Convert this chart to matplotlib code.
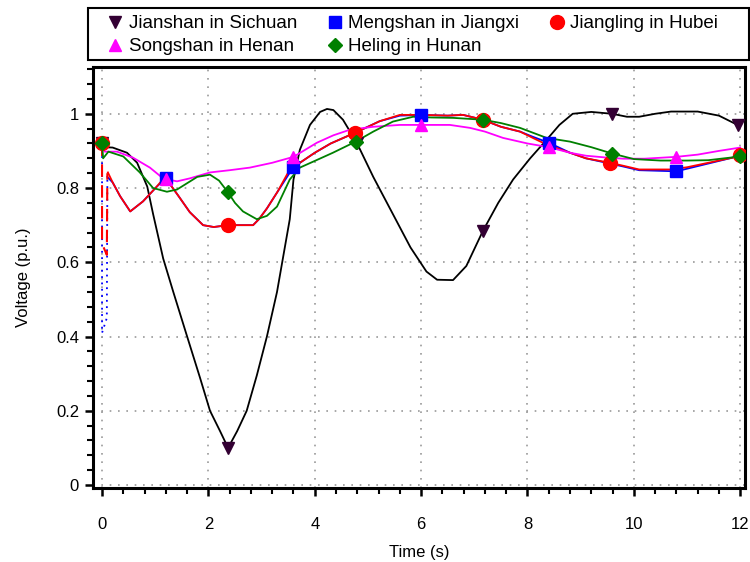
import numpy as np
import matplotlib.pyplot as plt
from matplotlib.lines import Line2D
from matplotlib.patches import Rectangle
from matplotlib.ticker import AutoMinorLocator

plt.rcParams['font.family'] = ['Liberation Sans', 'DejaVu Sans']

# Jianshan in Sichuan
js_t = [0, 0.05, 0.2, 0.47, 0.66, 0.85, 0.96, 1.15, 1.34, 1.6, 1.84, 2.03, 2.22, 2.37,
        2.54, 2.72, 2.91, 3.1, 3.29, 3.4, 3.53, 3.6, 3.72, 3.91, 4.1, 4.23, 4.35, 4.53, 4.79,
        5.1, 5.45, 5.8, 6.1, 6.3, 6.6, 6.85, 7.16, 7.45, 7.73, 8.05, 8.36, 8.6, 8.85,
        9.2, 9.59, 9.87, 10.1, 10.4, 10.7, 11.2, 11.6, 11.95]
js_v = [0.92, 0.91, 0.909, 0.895, 0.868, 0.804, 0.73, 0.61, 0.52, 0.40, 0.29, 0.20, 0.145, 0.10,
        0.145, 0.20, 0.295, 0.40, 0.52, 0.61, 0.716, 0.823, 0.903, 0.97, 1.005, 1.013, 1.01, 0.984, 0.922,
        0.83, 0.735, 0.64, 0.575, 0.553, 0.552, 0.59, 0.684, 0.76, 0.823, 0.88, 0.93, 0.97, 1.0,
        1.005, 1.0, 0.992, 0.992, 1.0, 1.006, 1.006, 0.995, 0.97]
js_mt = [0, 2.37, 4.79, 7.16, 9.59, 11.95]
js_mv = [0.92, 0.10, 0.922, 0.684, 1.0, 0.97]

# Mengshan in Jiangxi
ms_t = [0.1, 0.2, 0.34, 0.53, 0.77, 1.03, 1.2, 1.43, 1.65, 1.9, 2.1, 2.37, 2.84, 2.95,
        3.1, 3.3, 3.6, 3.72, 4.0, 4.3, 4.76, 5.22, 5.6, 6.0, 6.5, 6.79, 7.16, 7.5, 7.86,
        8.1, 8.4, 8.8, 9.1, 9.55, 9.8, 10.1, 10.8, 11.0, 11.4, 11.86, 12.0]
ms_v = [0.83, 0.815, 0.778, 0.737, 0.764, 0.804, 0.826, 0.78, 0.735, 0.70, 0.695, 0.70, 0.70, 0.716,
        0.745, 0.79, 0.857, 0.868, 0.895, 0.92, 0.949, 0.98, 0.995, 0.997, 0.995, 0.997, 0.984, 0.965, 0.952,
        0.938, 0.922, 0.895, 0.88, 0.866, 0.858, 0.848, 0.845, 0.852, 0.866, 0.882, 0.89]
ms_fault_t = [0.0, 0.0, 0.09, 0.1]
ms_fault_v = [0.92, 0.41, 0.45, 0.83]
ms_mt = [1.2, 3.6, 6.0, 8.4, 10.8]
ms_mv = [0.826, 0.857, 0.997, 0.922, 0.845]

# Jiangling in Hubei
jl_t = [0.11, 0.2, 0.34, 0.53, 0.77, 1.03, 1.18, 1.43, 1.65, 1.9, 2.1, 2.37, 2.84, 2.95,
        3.1, 3.3, 3.53, 3.72, 4.0, 4.3, 4.76, 5.0, 5.22, 5.6, 6.0, 6.5, 6.79, 7.16, 7.5, 7.86,
        8.1, 8.36, 8.8, 9.1, 9.55, 9.8, 10.1, 10.7, 11.0, 11.4, 11.86, 12.0]
jl_v = [0.842, 0.815, 0.778, 0.737, 0.764, 0.804, 0.83, 0.78, 0.735, 0.70, 0.695, 0.70, 0.70, 0.716,
        0.745, 0.79, 0.85, 0.868, 0.895, 0.92, 0.949, 0.965, 0.98, 0.997, 0.997, 0.995, 0.997, 0.984, 0.965, 0.952,
        0.935, 0.917, 0.895, 0.88, 0.868, 0.86, 0.85, 0.85, 0.856, 0.868, 0.882, 0.89]
jl_fault_t = [0.0, 0.0, 0.09, 0.1]
jl_fault_v = [0.92, 0.65, 0.62, 0.84]
jl_mt = [0, 2.37, 4.76, 7.16, 9.55, 12.0]
jl_mv = [0.92, 0.70, 0.949, 0.984, 0.868, 0.89]

# Songshan in Henan
ss_t = [0, 0.05, 0.28, 0.58, 0.9, 1.13, 1.2, 1.41, 1.65, 2.03, 2.4, 2.78, 3.2, 3.6, 4.04, 4.35,
        4.66, 5.1, 5.6, 6.0, 6.54, 6.92, 7.2, 7.54, 8.0, 8.4, 8.8, 9.1, 9.49, 9.8, 10.2,
        10.8, 11.2, 11.6, 12.0]
ss_v = [0.92, 0.898, 0.898, 0.882, 0.855, 0.828, 0.824, 0.818, 0.826, 0.842, 0.848, 0.855, 0.868, 0.884, 0.922, 0.942,
        0.957, 0.965, 0.97, 0.97, 0.97, 0.962, 0.952, 0.935, 0.92, 0.91, 0.895, 0.887, 0.882, 0.879, 0.879,
        0.884, 0.89, 0.9, 0.909]
ss_mt = [1.2, 3.6, 6.0, 8.4, 10.8]
ss_mv = [0.824, 0.884, 0.97, 0.91, 0.884]

# Heling in Hunan
hl_t = [0, 0.02, 0.12, 0.4, 0.71, 0.96, 1.22, 1.41, 1.79, 2.03, 2.2, 2.37,
        2.5, 2.65, 2.91, 3.1, 3.29, 3.53, 3.72, 4.0, 4.34, 4.77, 5.1, 5.47, 5.85, 6.2, 6.6,
        7.16, 7.5, 7.86, 8.36, 8.8, 9.2, 9.59, 10.0, 10.5, 11.0, 11.4, 11.7, 12.0]
hl_v = [0.92, 0.88, 0.898, 0.885, 0.842, 0.80, 0.79, 0.796, 0.83, 0.836, 0.82, 0.788,
        0.76, 0.737, 0.716, 0.725, 0.75, 0.823, 0.855, 0.873, 0.895, 0.925, 0.952, 0.979, 0.992, 0.99, 0.989,
        0.984, 0.975, 0.962, 0.935, 0.925, 0.91, 0.893, 0.878, 0.874, 0.874, 0.875, 0.88, 0.885]
hl_mt = [0, 2.37, 4.77, 7.16, 9.59, 12.0]
hl_mv = [0.92, 0.788, 0.925, 0.984, 0.893, 0.885]

names = ['Jianshan in Sichuan', 'Mengshan in Jiangxi', 'Jiangling in Hubei',
         'Songshan in Henan', 'Heling in Hunan']

fig = plt.figure(figsize=(7.5, 5.62), dpi=100)
ax = fig.add_axes([93/750, 74/562, 652/750, 421/562])

lw = 1.3
# black line with dark purple markers
ax.plot(js_t, js_v, color='black', lw=lw, zorder=2)
ax.plot(js_mt, js_mv, ls='none', marker='v', ms=9, color='#330033', zorder=5)

ax.plot(ms_fault_t, ms_fault_v, color='blue', lw=1.3, ls=(0, (1, 2.5)), zorder=2)
ax.plot(ms_t, ms_v, color='blue', lw=lw, zorder=2)
ax.plot(ms_mt, ms_mv, ls='none', marker='s', ms=9, color='blue', zorder=5)

ax.plot(jl_fault_t, jl_fault_v, color='red', lw=1.5, ls=(0, (6, 4)), zorder=3)
ax.plot(jl_t, jl_v, color='red', lw=lw, zorder=3)
ax.plot(jl_mt, jl_mv, ls='none', marker='o', ms=10, color='red', zorder=5)

ax.plot(ss_t, ss_v, color='#ff00ff', lw=lw, zorder=3)
ax.plot(ss_mt, ss_mv, ls='none', marker='^', ms=9, color='#ff00ff', zorder=5)

ax.plot(hl_t, hl_v, color='green', lw=lw, zorder=3)
ax.plot(hl_mt, hl_mv, ls='none', marker='D', ms=7, color='green', zorder=5)

ax.set_xlim(-0.17, 12.09)
ax.set_ylim(-0.008, 1.126)
ax.set_xticks(np.arange(0, 13, 2))
ax.set_yticks([0, 0.2, 0.4, 0.6, 0.8, 1.0])
ax.set_yticklabels(['0', '0.2', '0.4', '0.6', '0.8', '1'])
ax.xaxis.set_minor_locator(AutoMinorLocator(5))
ax.yaxis.set_minor_locator(AutoMinorLocator(5))
ax.tick_params(which='major', direction='out', length=6, width=1.8, labelsize=12, pad=4)
ax.tick_params(which='minor', direction='out', length=4, width=1.5)
ax.tick_params(axis='x', pad=15)
ax.grid(True, which='major', color='#999999', linestyle=(0, (1, 4)), linewidth=1.2)
for sp in ax.spines.values():
    sp.set_linewidth(2.2)
    sp.set_color('black')

ax.set_xlabel('Time (s)', fontsize=12, labelpad=9)
ax.set_ylabel('Voltage (p.u.)', fontsize=12, labelpad=18)

handles = {
    'Jianshan in Sichuan': Line2D([], [], ls='none', marker='v', ms=9, color='#330033'),
    'Mengshan in Jiangxi': Line2D([], [], ls='none', marker='s', ms=9, color='blue'),
    'Jiangling in Hubei': Line2D([], [], ls='none', marker='o', ms=10, color='red'),
    'Songshan in Henan': Line2D([], [], ls='none', marker='^', ms=9, color='#ff00ff'),
    'Heling in Hunan': Line2D([], [], ls='none', marker='D', ms=7, color='green'),
}
# legend fills columns first, so reorder to read row by row
order = [names[0], names[3], names[1], names[4], names[2]]
leg = fig.legend([handles[n] for n in order], order, ncol=3,
                 loc='upper left', bbox_to_anchor=(108/750, 1 - 15/562),
                 fontsize=13.5, frameon=False,
                 handlelength=0.8, handletextpad=0.3, borderaxespad=0,
                 labelspacing=0.33, borderpad=0, columnspacing=1.62)
fig.patches.append(Rectangle((88/750, 502/562), 661/750, 52/562, transform=fig.transFigure,
                             fill=False, edgecolor='black', linewidth=1.5))

fig.savefig('out.png', dpi=100)
